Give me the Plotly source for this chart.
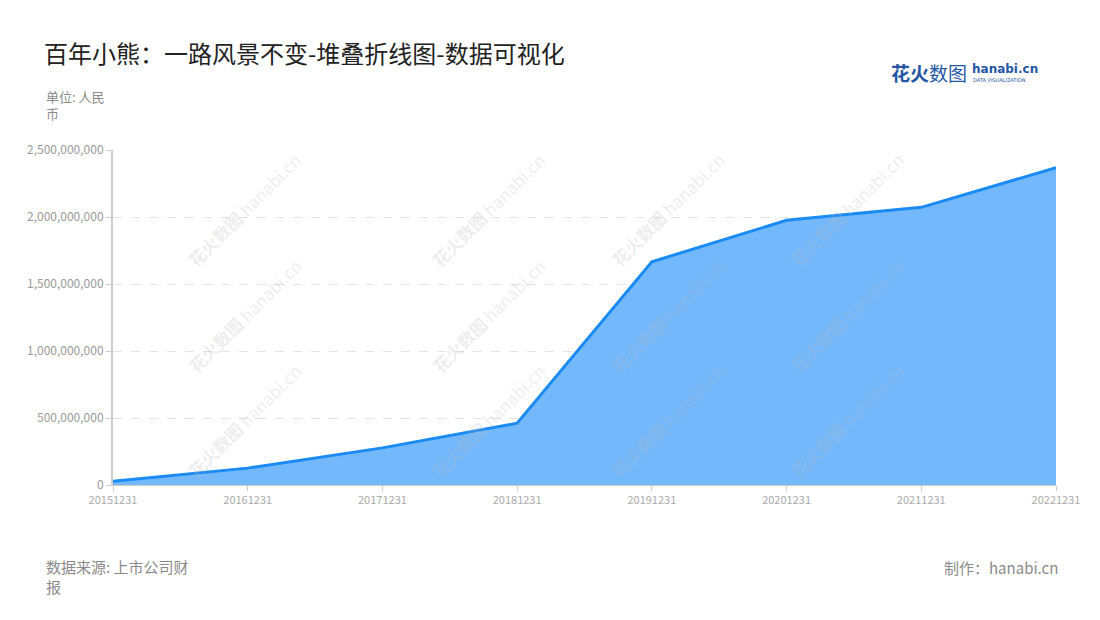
import plotly.graph_objects as go

# data (unit: RMB)
dates = ["20151231", "20161231", "20171231", "20181231",
         "20191231", "20201231", "20211231", "20221231"]
revenue = [27e6, 126e6, 277e6, 461e6, 1666e6, 1975e6, 2072e6, 2368e6]

title = "百年小熊：一路风景不变-堆叠折线图-数据可视化"
unit_note = "单位: 人民<br>币"
source_note = "数据来源: 上市公司财<br>报"
credit_note = "制作：hanabi.cn"

# page body has an 8px margin, so the figure is drawn 8px in
O = 8
W, H = 1100 - 2 * O, 620 - 2 * O
L, R, T, B = 113 - O, 40 - O, 150 - O, 135 - O
FONT = "Noto Sans CJK SC"

def px(x):
    return (x - O - L) / (W - L - R)

def py(y):
    return (H - B - (y - O)) / (H - T - B)

fig = go.Figure()
fig.add_trace(go.Scatter(
    x=dates, y=revenue, mode="lines",
    fill="tozeroy", fillcolor="#74B8FC",
    line=dict(color="#1A8AF4", width=3),
    hoverinfo="x+y",
))

ann = []
# watermarks
for cx in [180, 425, 670, 915]:
    for cy in [145, 315, 485]:
        ann.append(dict(x=px(cx), y=py(cy), xref="paper", yref="paper",
                        text="<b>花火数图</b> hanabi.cn", showarrow=False,
                        textangle=-45, font=dict(size=17, color="rgba(185,185,185,0.25)",
                                                 family=FONT)))

ann += [
    dict(x=px(44), y=py(85), xref="paper", yref="paper", text=unit_note,
         showarrow=False, xanchor="left", yanchor="top", align="left",
         font=dict(size=13, color="#8a8a8a", family=FONT)),
    dict(x=px(44), y=py(554), xref="paper", yref="paper", text=source_note,
         showarrow=False, xanchor="left", yanchor="top", align="left",
         font=dict(size=15, color="#8a8a8a", family=FONT)),
    dict(x=px(1064), y=py(567), xref="paper", yref="paper", text=credit_note,
         showarrow=False, xanchor="right", yanchor="middle",
         font=dict(size=15, color="#8a8a8a", family=FONT)),
    # logo
    dict(x=px(892), y=py(72), xref="paper", yref="paper", text="<b>花火</b>数图",
         showarrow=False, xanchor="left", yanchor="middle",
         font=dict(size=19, color="#2456a6", family=FONT)),
    dict(x=px(974), y=py(69), xref="paper", yref="paper", text="<b>hanabi.cn</b>",
         showarrow=False, xanchor="left", yanchor="middle",
         font=dict(size=12, color="#2456a6", family="DejaVu Sans")),
    dict(x=px(975), y=py(80), xref="paper", yref="paper", text="DATA VISUALIZATION",
         showarrow=False, xanchor="left", yanchor="middle",
         font=dict(size=5, color="#2456a6", family="DejaVu Sans")),
]

fig.update_layout(
    width=W, height=H,
    margin=dict(l=L, r=R, t=T, b=B),
    paper_bgcolor="white", plot_bgcolor="white",
    title=dict(text=title, x=(44 - O) / W, xanchor="left", y=1 - (55 - O) / H,
               yanchor="middle", font=dict(size=24, color="#222", family=FONT)),
    font=dict(family=FONT),
    showlegend=False,
    annotations=ann,
    xaxis=dict(
        type="category", range=[0, len(dates) - 1],
        showline=True, linecolor="#cccccc", linewidth=1,
        ticks="outside", tickcolor="#cccccc", ticklen=5,
        showgrid=False, tickfont=dict(size=11, color="#aaaaaa"),
    ),
    yaxis=dict(
        range=[0, 2.5e9], dtick=5e8, tickformat=",d",
        showline=True, linecolor="#cccccc", linewidth=2,
        ticks="outside", tickcolor="#cccccc", ticklen=5,
        gridcolor="#e3e3e3", griddash="dash", zeroline=False,
        tickfont=dict(size=12, color="#999999"),
    ),
)

fig.write_html("out.html")
